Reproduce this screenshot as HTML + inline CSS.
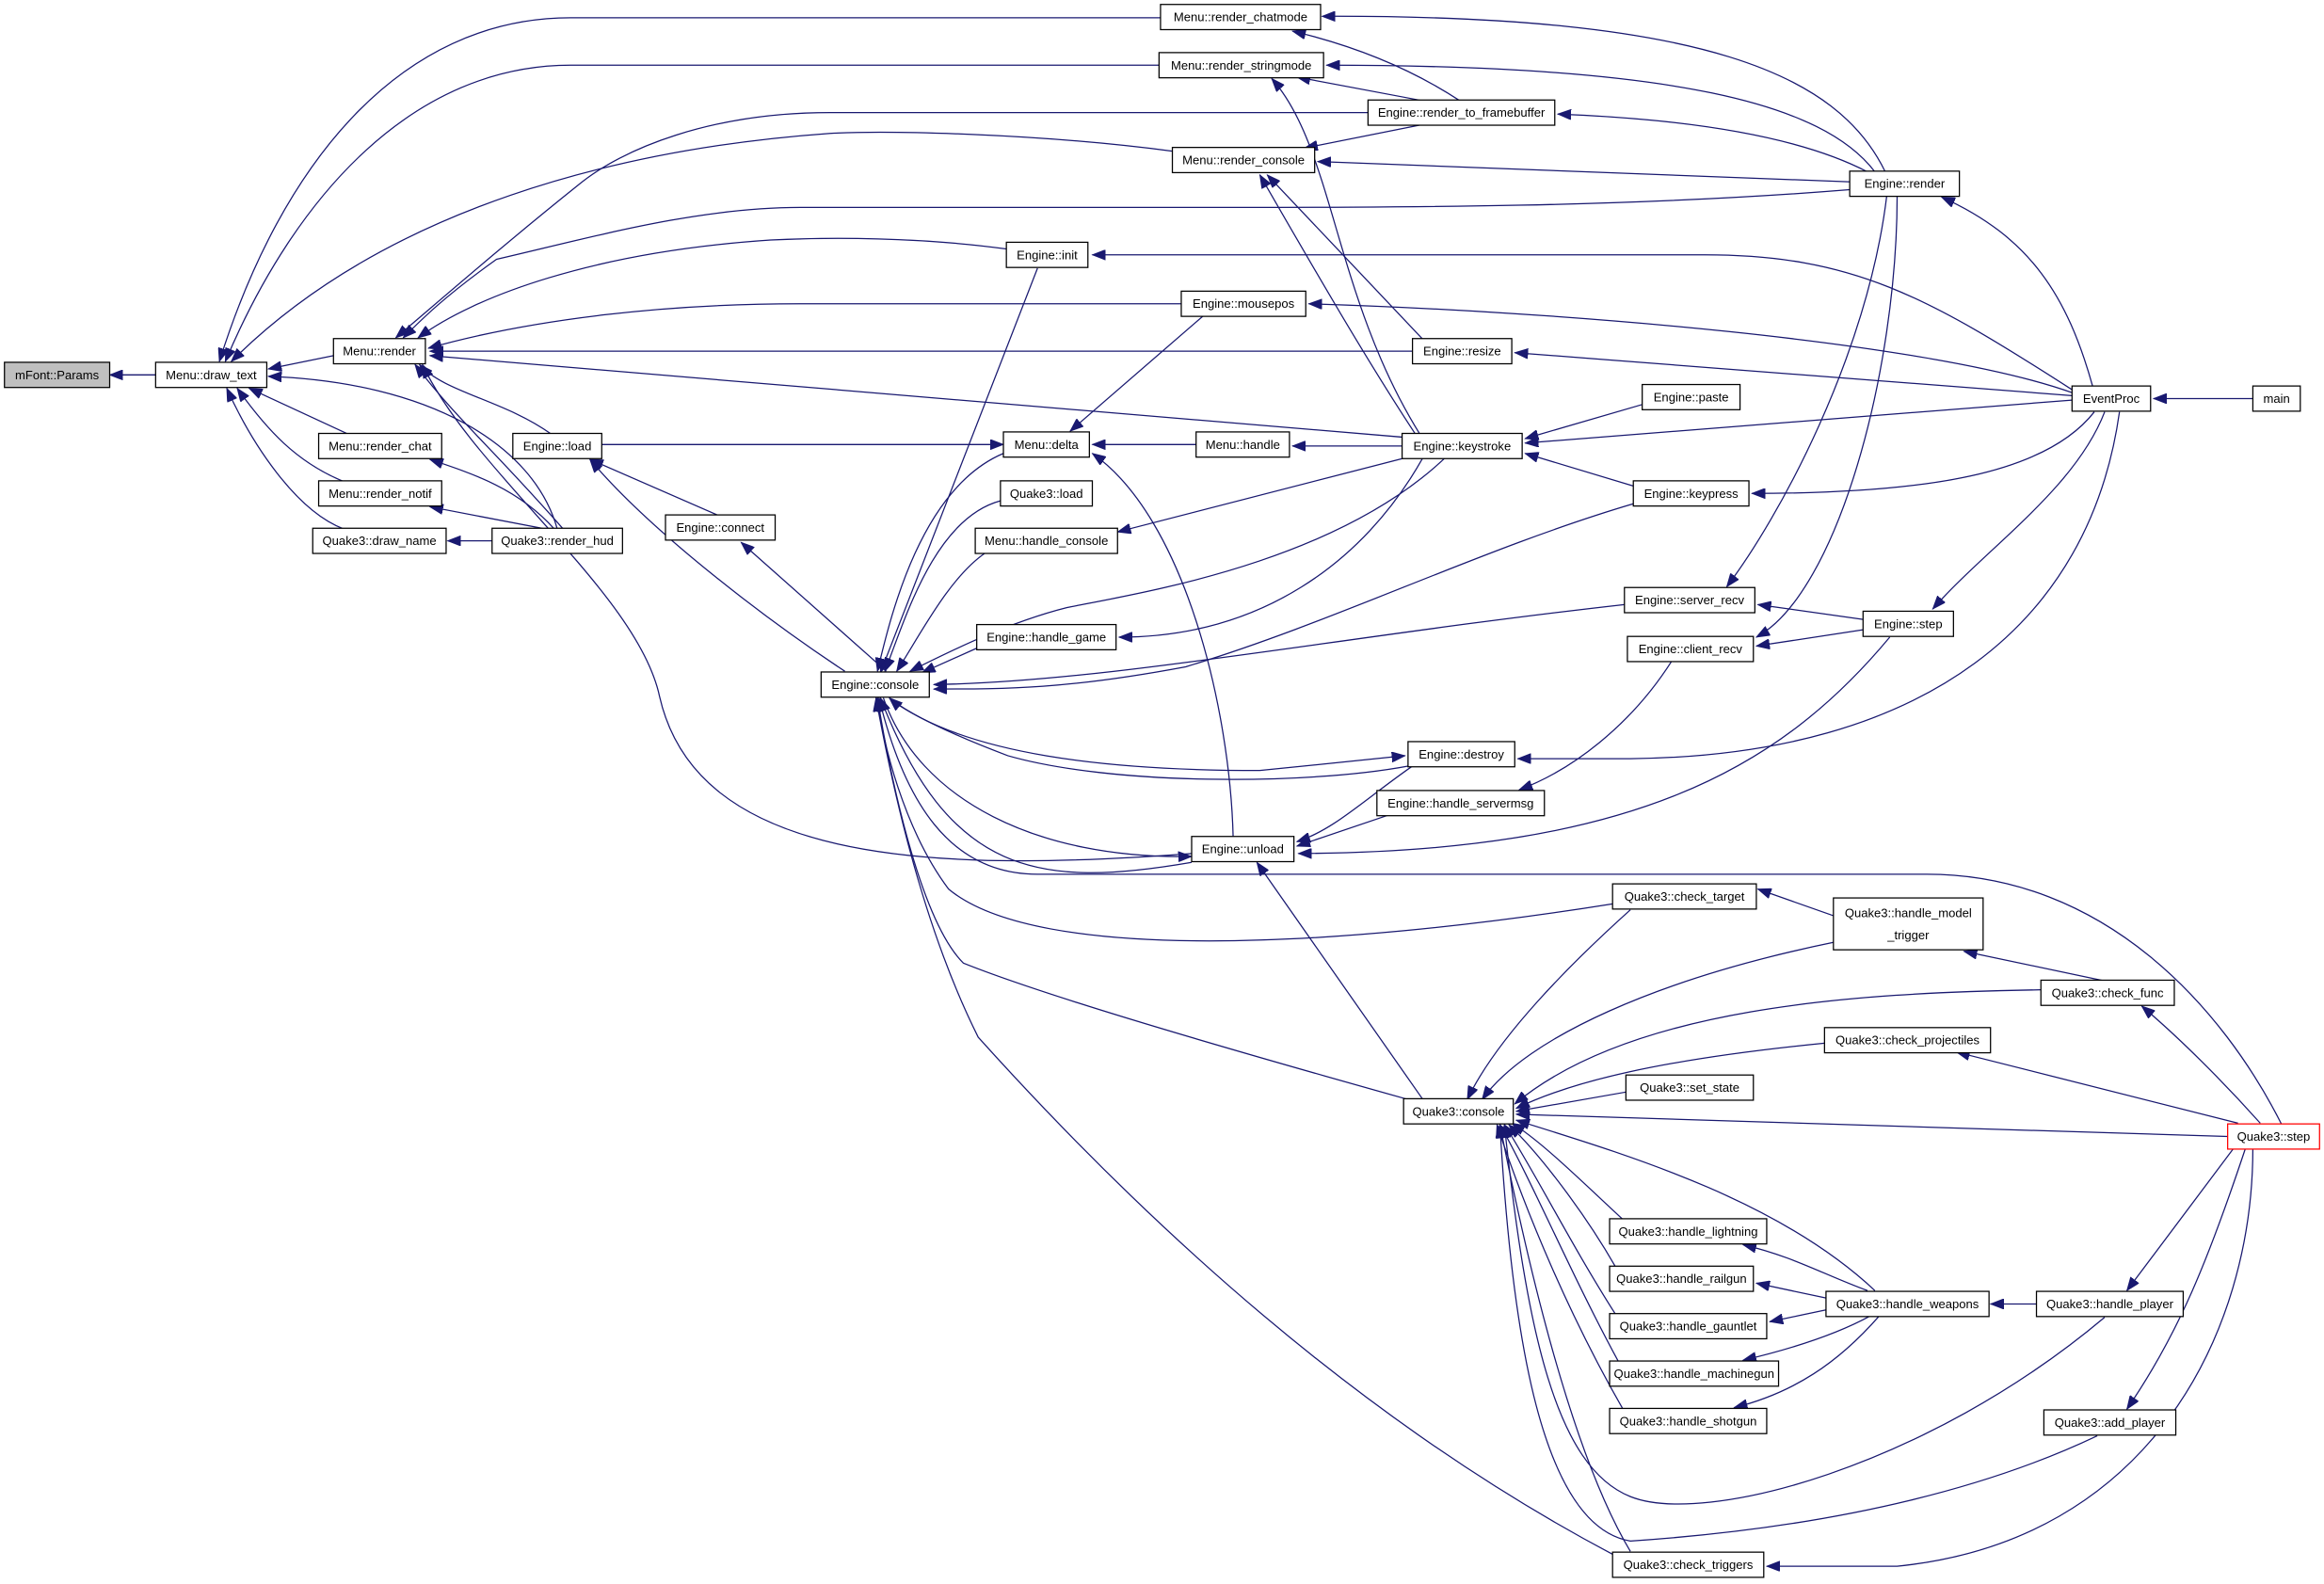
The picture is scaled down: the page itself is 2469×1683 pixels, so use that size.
<!DOCTYPE html>
<html><head><meta charset="utf-8"><style>
html,body{margin:0;padding:0;background:#fff;}
svg{display:block;}
text{font-family:"Liberation Sans",sans-serif;font-size:8.3px;fill:#000;text-anchor:middle;dominant-baseline:central;}
.e{fill:none;stroke:#191970;stroke-width:0.8;marker-end:url(#a);}
.n{fill:#fff;stroke:#000;stroke-width:0.8;}
</style></head><body>
<svg width="2469" height="1683" viewBox="0 0 1568 1069" preserveAspectRatio="none" xmlns="http://www.w3.org/2000/svg">
<defs><marker id="a" markerUnits="userSpaceOnUse" markerWidth="10" markerHeight="7" refX="9" refY="3.5" orient="auto"><path d="M0,0 L9,3.5 L0,7 z" fill="#191970" stroke="#191970" stroke-width="0.5"/></marker></defs>
<g>
<path class="e" d="M105,253 L74,253"/>
<path class="e" d="M783,12 L385,12 C270,12 190,110 148,244"/>
<path class="e" d="M785,44 L385,44 C280,44 200,130 152,244"/>
<path class="e" d="M791,102 C700,90 600,88 560,90 C420,100 260,140 156,244"/>
<path class="e" d="M225,240 L181,249"/>
<path class="e" d="M235,293 L168,262"/>
<path class="e" d="M232,325 C200,312 180,290 160,262"/>
<path class="e" d="M232,357 C200,345 170,300 153,262"/>
<path class="e" d="M376,357 C360,300 290,258 181,254"/>
<path class="e" d="M332,365 L302,365"/>
<path class="e" d="M374,357 C350,330 320,320 290,310"/>
<path class="e" d="M368,357 L290,342"/>
<path class="e" d="M380,357 C330,300 310,285 280,246"/>
<path class="e" d="M372,293 C340,270 300,265 283,246"/>
<path class="e" d="M804,576 C620,590 470,580 445,470 C430,400 320,320 285,246"/>
<path class="e" d="M923,76 L560,76 C480,76 420,100 390,125 C340,165 300,200 267,228"/>
<path class="e" d="M1248,128 C1100,140 950,140 800,140 L540,140 C470,140 400,160 335,175 C300,200 285,215 272,228"/>
<path class="e" d="M679,168 C620,160 560,160 520,162 C400,170 320,200 282,228"/>
<path class="e" d="M797,205 L540,205 C450,205 360,215 289,235"/>
<path class="e" d="M953,237 L290,237"/>
<path class="e" d="M946,295 L290,240"/>
<path class="e" d="M985,68 C950,45 910,30 872,21"/>
<path class="e" d="M960,68 L875,52"/>
<path class="e" d="M960,84 L880,100"/>
<path class="e" d="M1272,116 C1240,50 1150,10 892,11"/>
<path class="e" d="M1265,116 C1230,70 1130,44 895,44"/>
<path class="e" d="M1260,116 C1210,90 1130,80 1051,77"/>
<path class="e" d="M1255,123 L889,109"/>
<path class="e" d="M1412,261 C1395,200 1370,160 1310,133"/>
<path class="e" d="M1273,132 C1260,240 1200,350 1165,396"/>
<path class="e" d="M1280,132 C1280,250 1240,400 1185,430"/>
<path class="e" d="M958,293 C900,200 900,100 858,53"/>
<path class="e" d="M955,293 C920,240 880,170 850,118"/>
<path class="e" d="M960,229 L855,118"/>
<path class="e" d="M1398,263 C1300,200 1250,172 1150,172 L737,172"/>
<path class="e" d="M1398,265 C1300,230 1050,210 883,205"/>
<path class="e" d="M1398,267 L1022,238"/>
<path class="e" d="M1398,270 L1029,299"/>
<path class="e" d="M1520,269 L1453,269"/>
<path class="e" d="M1108,273 L1029,296"/>
<path class="e" d="M1102,328 L1029,306"/>
<path class="e" d="M1413,278 C1380,320 1300,333 1182,333"/>
<path class="e" d="M1420,278 C1400,330 1340,370 1304,411"/>
<path class="e" d="M1430,278 C1410,420 1300,510 1100,512 L1024,512"/>
<path class="e" d="M946,301 L872,301"/>
<path class="e" d="M807,300 L737,300"/>
<path class="e" d="M406,300 L677,300"/>
<path class="e" d="M812,213 L722,291"/>
<path class="e" d="M832,565 C830,480 800,350 737,306"/>
<path class="e" d="M948,309 L754,359"/>
<path class="e" d="M960,309 C920,380 850,430 755,430"/>
<path class="e" d="M975,309 C900,380 770,400 720,410 C680,420 640,440 614,453"/>
<path class="e" d="M700,181 L594,454"/>
<path class="e" d="M570,453 C520,420 440,360 398,310"/>
<path class="e" d="M485,348 L398,310"/>
<path class="e" d="M598,453 L500,366"/>
<path class="e" d="M677,306 C620,330 600,420 592,453"/>
<path class="e" d="M675,338 C630,350 610,420 597,453"/>
<path class="e" d="M665,373 C640,390 620,430 605,453"/>
<path class="e" d="M660,437 L622,454"/>
<path class="e" d="M1102,340 C1000,370 900,420 800,450 C720,465 680,465 630,465"/>
<path class="e" d="M1096,408 C900,430 750,460 630,462"/>
<path class="e" d="M600,471 C650,510 750,520 850,520 L948,510"/>
<path class="e" d="M950,517 C880,530 750,530 680,510 C640,495 610,480 600,471"/>
<path class="e" d="M596,471 C620,540 700,580 804,578"/>
<path class="e" d="M804,582 C700,600 640,590 594,471"/>
<path class="e" d="M1540,760 C1500,680 1420,590 1300,590 L700,590 C640,590 610,540 593,471"/>
<path class="e" d="M1088,610 C900,640 700,650 640,600 C610,560 595,500 592,471"/>
<path class="e" d="M950,742 C800,700 700,670 650,650 C620,620 600,520 592,471"/>
<path class="e" d="M1090,1050 C900,950 750,800 660,700 C620,620 600,520 591,471"/>
<path class="e" d="M953,517 C920,540 900,560 875,568"/>
<path class="e" d="M940,549 L875,571"/>
<path class="e" d="M1128,446 C1100,490 1060,520 1025,533"/>
<path class="e" d="M1275,430 C1200,520 1100,575 876,576"/>
<path class="e" d="M1257,418 L1186,408"/>
<path class="e" d="M1257,425 L1185,436"/>
<path class="e" d="M960,742 L848,582"/>
<path class="e" d="M1100,614 C1060,650 1010,700 990,742"/>
<path class="e" d="M1237,636 C1120,660 1030,700 1000,742"/>
<path class="e" d="M1377,668 C1250,670 1100,680 1022,745"/>
<path class="e" d="M1231,704 C1120,715 1060,730 1023,748"/>
<path class="e" d="M1097,737 L1023,750"/>
<path class="e" d="M1503,767 L1023,752"/>
<path class="e" d="M1095,823 C1070,800 1040,770 1020,758"/>
<path class="e" d="M1090,855 C1070,820 1040,780 1018,759"/>
<path class="e" d="M1090,887 C1060,840 1035,790 1015,759"/>
<path class="e" d="M1092,919 C1060,860 1035,800 1012,759"/>
<path class="e" d="M1095,951 C1060,890 1030,820 1010,759"/>
<path class="e" d="M1265,871 C1200,810 1100,780 1023,756"/>
<path class="e" d="M1420,889 C1300,990 1150,1030 1100,1010 C1050,990 1030,900 1015,759"/>
<path class="e" d="M1415,969 C1350,1000 1250,1030 1100,1040 C1040,1030 1020,900 1012,759"/>
<path class="e" d="M1100,1047 C1060,980 1030,850 1012,759"/>
<path class="e" d="M1237,618 L1186,600"/>
<path class="e" d="M1420,662 L1325,642"/>
<path class="e" d="M1525,758 C1500,730 1470,700 1445,679"/>
<path class="e" d="M1510,758 L1320,710"/>
<path class="e" d="M1507,775 L1435,871"/>
<path class="e" d="M1515,775 C1490,850 1470,900 1435,951"/>
<path class="e" d="M1520,775 C1520,900 1450,1040 1280,1057 L1192,1057"/>
<path class="e" d="M1374,880 L1343,880"/>
<path class="e" d="M1260,871 C1230,860 1210,848 1176,840"/>
<path class="e" d="M1232,876 L1185,866"/>
<path class="e" d="M1232,884 L1194,892"/>
<path class="e" d="M1262,888 C1240,900 1210,910 1176,918"/>
<path class="e" d="M1268,888 C1240,920 1210,940 1170,950"/>
</g>
<g>
<rect x="3" y="244.5" width="71" height="17" fill="#bfbfbf" stroke="#000" stroke-width="0.8"/><text x="38.5" y="253">mFont::Params</text>
<rect class="n" x="105" y="244.5" width="75" height="17"/><text x="142.5" y="253">Menu::draw_text</text>
<rect class="n" x="783" y="3" width="108" height="17"/><text x="837" y="11.5">Menu::render_chatmode</text>
<rect class="n" x="782" y="35.5" width="111" height="17"/><text x="837.5" y="44">Menu::render_stringmode</text>
<rect class="n" x="923" y="67.5" width="126" height="17"/><text x="986" y="76">Engine::render_to_framebuffer</text>
<rect class="n" x="791" y="99.5" width="96" height="17"/><text x="839" y="108">Menu::render_console</text>
<rect class="n" x="1248" y="115.5" width="74" height="17"/><text x="1285" y="124">Engine::render</text>
<rect class="n" x="679" y="163.5" width="55" height="17"/><text x="706.5" y="172">Engine::init</text>
<rect class="n" x="225" y="228.5" width="62" height="17"/><text x="256" y="237">Menu::render</text>
<rect class="n" x="797" y="196.5" width="84" height="17"/><text x="839" y="205">Engine::mousepos</text>
<rect class="n" x="953" y="228.5" width="67" height="17"/><text x="986.5" y="237">Engine::resize</text>
<rect class="n" x="1398" y="260.5" width="53" height="17"/><text x="1424.5" y="269">EventProc</text>
<rect class="n" x="1520" y="260.5" width="32" height="17"/><text x="1536" y="269">main</text>
<rect class="n" x="215" y="292.5" width="83" height="17"/><text x="256.5" y="301">Menu::render_chat</text>
<rect class="n" x="215" y="324.5" width="83" height="17"/><text x="256.5" y="333">Menu::render_notif</text>
<rect class="n" x="211" y="356.5" width="90" height="17"/><text x="256" y="365">Quake3::draw_name</text>
<rect class="n" x="332" y="356.5" width="88" height="17"/><text x="376" y="365">Quake3::render_hud</text>
<rect class="n" x="346" y="292.5" width="60" height="17"/><text x="376" y="301">Engine::load</text>
<rect class="n" x="677" y="291.5" width="58" height="17"/><text x="706" y="300">Menu::delta</text>
<rect class="n" x="807" y="291.5" width="63" height="17"/><text x="838.5" y="300">Menu::handle</text>
<rect class="n" x="946" y="292.5" width="81" height="17"/><text x="986.5" y="301">Engine::keystroke</text>
<rect class="n" x="1108" y="259.5" width="66" height="17"/><text x="1141" y="268">Engine::paste</text>
<rect class="n" x="675" y="324.5" width="62" height="17"/><text x="706" y="333">Quake3::load</text>
<rect class="n" x="1102" y="324.5" width="78" height="17"/><text x="1141" y="333">Engine::keypress</text>
<rect class="n" x="658" y="356.5" width="96" height="17"/><text x="706" y="365">Menu::handle_console</text>
<rect class="n" x="449" y="347.5" width="74" height="17"/><text x="486" y="356">Engine::connect</text>
<rect class="n" x="659" y="421.5" width="94" height="17"/><text x="706" y="430">Engine::handle_game</text>
<rect class="n" x="554" y="453.5" width="73" height="17"/><text x="590.5" y="462">Engine::console</text>
<rect class="n" x="1096" y="396.5" width="88" height="17"/><text x="1140" y="405">Engine::server_recv</text>
<rect class="n" x="1098" y="429.5" width="85" height="17"/><text x="1140.5" y="438">Engine::client_recv</text>
<rect class="n" x="1257" y="412.5" width="61" height="17"/><text x="1287.5" y="421">Engine::step</text>
<rect class="n" x="950" y="500.5" width="72" height="17"/><text x="986" y="509">Engine::destroy</text>
<rect class="n" x="929" y="533.5" width="113" height="17"/><text x="985.5" y="542">Engine::handle_servermsg</text>
<rect class="n" x="804" y="564.5" width="69" height="17"/><text x="838.5" y="573">Engine::unload</text>
<rect class="n" x="1088" y="596.5" width="97" height="17"/><text x="1136.5" y="605">Quake3::check_target</text>
<rect class="n" x="1237" y="606" width="101" height="35"/><text x="1287.5" y="616">Quake3::handle_model</text><text x="1287.5" y="631">_trigger</text>
<rect class="n" x="1377" y="661.5" width="90" height="17"/><text x="1422" y="670">Quake3::check_func</text>
<rect class="n" x="1231" y="693.5" width="112" height="17"/><text x="1287" y="702">Quake3::check_projectiles</text>
<rect class="n" x="1097" y="725.5" width="86" height="17"/><text x="1140" y="734">Quake3::set_state</text>
<rect class="n" x="947" y="741.5" width="74" height="17"/><text x="984" y="750">Quake3::console</text>
<rect x="1503" y="758.5" width="62" height="17" fill="#fff" stroke="#ff0000" stroke-width="0.8"/><text x="1534" y="767">Quake3::step</text>
<rect class="n" x="1086" y="822.5" width="106" height="17"/><text x="1139" y="831">Quake3::handle_lightning</text>
<rect class="n" x="1086" y="854.5" width="97" height="17"/><text x="1134.5" y="863">Quake3::handle_railgun</text>
<rect class="n" x="1232" y="871.5" width="110" height="17"/><text x="1287" y="880">Quake3::handle_weapons</text>
<rect class="n" x="1374" y="871.5" width="99" height="17"/><text x="1423.5" y="880">Quake3::handle_player</text>
<rect class="n" x="1086" y="886.5" width="106" height="17"/><text x="1139" y="895">Quake3::handle_gauntlet</text>
<rect class="n" x="1086" y="918.5" width="114" height="17"/><text x="1143" y="927">Quake3::handle_machinegun</text>
<rect class="n" x="1086" y="950.5" width="106" height="17"/><text x="1139" y="959">Quake3::handle_shotgun</text>
<rect class="n" x="1379" y="951.5" width="89" height="17"/><text x="1423.5" y="960">Quake3::add_player</text>
<rect class="n" x="1088" y="1047.5" width="102" height="17"/><text x="1139" y="1056">Quake3::check_triggers</text>
</g>
</svg>
</body></html>
